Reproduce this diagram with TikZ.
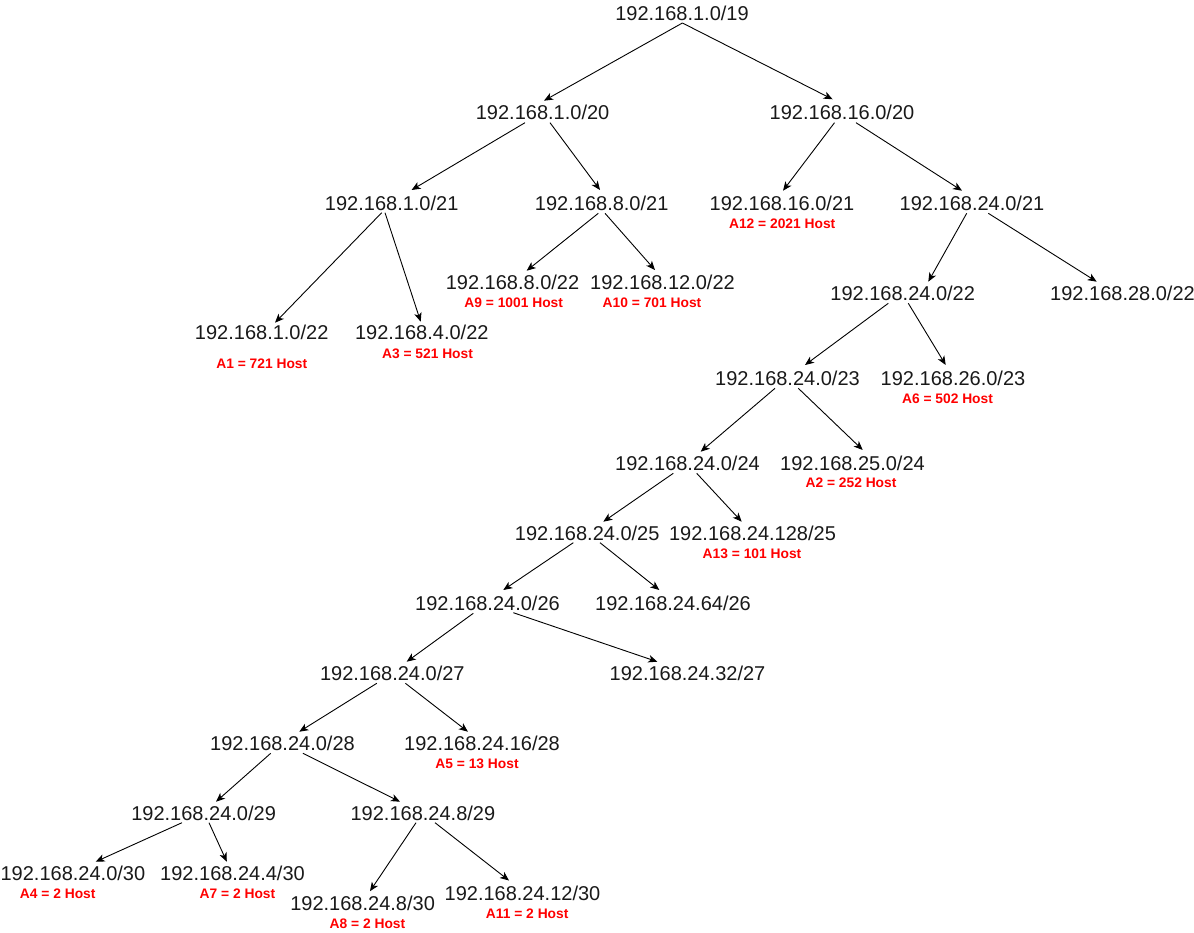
\documentclass[tikz,border=0pt]{standalone}
\usepackage{fontspec}
\setmainfont{Liberation Sans}
\usetikzlibrary{arrows.meta,calc}
\begin{document}
\begin{tikzpicture}[x=1pt,y=-1pt,
  net/.style={anchor=base,inner sep=0pt,font=\fontsize{20}{24}\selectfont,text=black!90},
  host/.style={anchor=base,inner sep=0pt,font=\fontsize{13.8}{16}\selectfont\bfseries,text=red},
  arr/.style={draw=black,line width=0.9pt,-{Stealth[length=9pt,width=7.5pt,inset=2.5pt]}}]
\useasboundingbox (0,0) rectangle (1194,933);

% network nodes
\node[net] (root) at (682,21) {192.168.1.0/19};
\node[net] (n20a) at (542.6,120) {192.168.1.0/20};
\node[net] (n20b) at (842,120) {192.168.16.0/20};
\node[net] (n21a) at (391.7,211) {192.168.1.0/21};
\node[net] (n21b) at (601.7,211) {192.168.8.0/21};
\node[net] (n21c) at (782,211) {192.168.16.0/21};
\node[net] (n21d) at (972,211) {192.168.24.0/21};
\node[net] (n22a) at (261.7,339) {192.168.1.0/22};
\node[net] (n22b) at (421.8,339) {192.168.4.0/22};
\node[net] (n22c) at (512.5,290) {192.168.8.0/22};
\node[net] (n22d) at (662.5,290) {192.168.12.0/22};
\node[net] (n22e) at (902.7,300.5) {192.168.24.0/22};
\node[net] (n22f) at (1122.5,300.5) {192.168.28.0/22};
\node[net] (n23a) at (787.5,385.7) {192.168.24.0/23};
\node[net] (n23b) at (953,385.7) {192.168.26.0/23};
\node[net] (n24a) at (687.5,470.5) {192.168.24.0/24};
\node[net] (n24b) at (852.5,470.5) {192.168.25.0/24};
\node[net] (n25a) at (587.2,540) {192.168.24.0/25};
\node[net] (n25b) at (752.5,540) {192.168.24.128/25};
\node[net] (n26a) at (487.5,610) {192.168.24.0/26};
\node[net] (n26b) at (673,610) {192.168.24.64/26};
\node[net] (n27a) at (392.3,680.5) {192.168.24.0/27};
\node[net] (n27b) at (687.5,680.5) {192.168.24.32/27};
\node[net] (n28a) at (282.5,750.5) {192.168.24.0/28};
\node[net] (n28b) at (482,750.5) {192.168.24.16/28};
\node[net] (n29a) at (203.6,820.5) {192.168.24.0/29};
\node[net] (n29b) at (422.9,820.5) {192.168.24.8/29};
\node[net] (n30a) at (72.9,880.5) {192.168.24.0/30};
\node[net] (n30b) at (232.5,880.5) {192.168.24.4/30};
\node[net] (n30c) at (362.6,910) {192.168.24.8/30};
\node[net] (n30d) at (522.5,900) {192.168.24.12/30};

% host labels
\node[host] (h12) at (782.2,228.3) {A12 = 2021 Host};
\node[host] (h9) at (513.7,308) {A9 = 1001 Host};
\node[host] (h10) at (652,308) {A10 = 701 Host};
\node[host] (h1) at (261.8,368.3) {A1 = 721 Host};
\node[host] (h3) at (427.5,358.3) {A3 = 521 Host};
\node[host] (h6) at (947.5,403) {A6 = 502 Host};
\node[host] (h2) at (851,487.8) {A2 = 252 Host};
\node[host] (h13) at (752,558.3) {A13 = 101 Host};
\node[host] (h5) at (477,768) {A5 = 13 Host};
\node[host] (h4) at (57.7,898) {A4 = 2 Host};
\node[host] (h7) at (237.5,898) {A7 = 2 Host};
\node[host] (h8) at (367.5,928.3) {A8 = 2 Host};
\node[host] (h11) at (527.2,918.3) {A11 = 2 Host};

% connectors
\draw[arr] ($(root.base)+(0.4,2)$) -- ($(n20a.base)+(1.4,-19.3)$);
\draw[arr] ($(root.base)+(0.4,2)$) -- ($(n20b.base)+(-9.4,-20.7)$);
\draw[arr] ($(n20a.base)+(-17.6,2.7)$) -- ($(n21a.base)+(19.9,-21)$);
\draw[arr] ($(n20a.base)+(7.4,2.7)$) -- ($(n21b.base)+(-1.7,-21)$);
\draw[arr] ($(n20b.base)+(-7.5,2.7)$) -- ($(n21c.base)+(1,-20.3)$);
\draw[arr] ($(n20b.base)+(14,2.7)$) -- ($(n21d.base)+(-10,-20.3)$);
\draw[arr] ($(n21a.base)+(-10,1.7)$) -- ($(n22a.base)+(13.3,-16.3)$);
\draw[arr] ($(n21a.base)+(-6.7,1.7)$) -- ($(n22b.base)+(-1.1,-17.3)$);
\draw[arr] ($(n21b.base)+(-3.4,2.3)$) -- ($(n22c.base)+(14.2,-19.3)$);
\draw[arr] ($(n21b.base)+(3.3,2.3)$) -- ($(n22d.base)+(-7.5,-20)$);
\draw[arr] ($(n21d.base)+(-5.3,2.3)$) -- ($(n22e.base)+(25.6,-18.8)$);
\draw[arr] ($(n21d.base)+(16.3,2.3)$) -- ($(n22f.base)+(-25.8,-18.8)$);
\draw[arr] ($(n22e.base)+(-14.4,2.8)$) -- ($(n23a.base)+(17.5,-20.7)$);
\draw[arr] ($(n22e.base)+(5.6,2.8)$) -- ($(n23b.base)+(-7.3,-20.7)$);
\draw[arr] ($(n23a.base)+(-12.5,2.6)$) -- ($(n24a.base)+(13.2,-18.8)$);
\draw[arr] ($(n23a.base)+(10.8,2.6)$) -- ($(n24b.base)+(10.2,-20.5)$);
\draw[arr] ($(n24a.base)+(-14.2,2.8)$) -- ($(n25a.base)+(16.1,-18.3)$);
\draw[arr] ($(n24a.base)+(9.2,2.8)$) -- ($(n25b.base)+(-10.8,-18.3)$);
\draw[arr] ($(n25a.base)+(-13.9,2.7)$) -- ($(n26a.base)+(15.8,-20)$);
\draw[arr] ($(n25a.base)+(12.8,2.7)$) -- ($(n26b.base)+(-13.7,-20)$);
\draw[arr] ($(n26a.base)+(-14.2,3.3)$) -- ($(n27a.base)+(14.4,-18.8)$);
\draw[arr] ($(n26a.base)+(25.8,2.7)$) -- ($(n27b.base)+(-30.2,-18.8)$);
\draw[arr] ($(n27a.base)+(-15.5,2.8)$) -- ($(n28a.base)+(16.8,-18.8)$);
\draw[arr] ($(n27a.base)+(13.1,2.8)$) -- ($(n28b.base)+(-14.1,-18.8)$);
\draw[arr] ($(n28a.base)+(-11.8,2.8)$) -- ($(n29a.base)+(12.4,-18.8)$);
\draw[arr] ($(n28a.base)+(20.4,2.8)$) -- ($(n29b.base)+(-22.9,-18.8)$);
\draw[arr] ($(n29a.base)+(-21.6,2.2)$) -- ($(n30a.base)+(22.8,-18.8)$);
\draw[arr] ($(n29a.base)+(5.4,2.2)$) -- ($(n30b.base)+(-5.7,-18.8)$);
\draw[arr] ($(n29b.base)+(-6.9,2.2)$) -- ($(n30c.base)+(7.4,-18.8)$);
\draw[arr] ($(n29b.base)+(12.1,2.2)$) -- ($(n30d.base)+(-13.5,-19.5)$);
\end{tikzpicture}
\end{document}
